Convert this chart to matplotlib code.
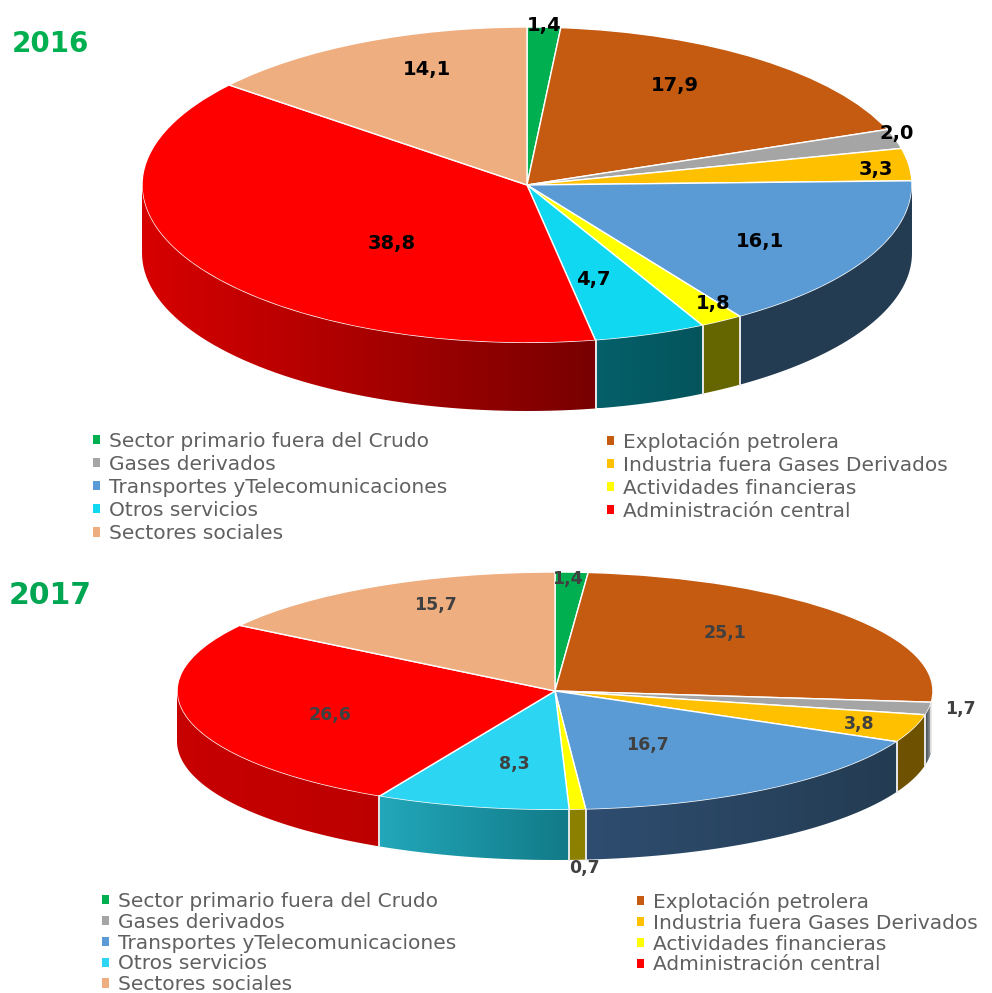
import numpy as np
import matplotlib
matplotlib.use('Agg')
import matplotlib.pyplot as plt
from matplotlib.colors import to_rgb
from matplotlib.patches import Polygon

W, H = 992, 993

categories = ['Sector primario fuera del Crudo', 'Explotación petrolera', 'Gases derivados',
              'Industria fuera Gases Derivados', 'Transportes yTelecomunicaciones', 'Actividades financieras',
              'Otros servicios', 'Administración central', 'Sectores sociales']
values_2016 = [1.4, 17.9, 2.0, 3.3, 16.1, 1.8, 4.7, 38.8, 14.1]
values_2017 = [1.4, 25.1, 1.7, 3.8, 16.7, 0.7, 8.3, 26.6, 15.7]

colors_2016 = ['#00B050', '#C55A11', '#A5A5A5', '#FFC000', '#5B9BD5', '#FFFF00', '#10D8F0', '#FF0000', '#EFAE80']
colors_2017 = ['#00B050', '#C55A11', '#A5A5A5', '#FFC000', '#5B9BD5', '#FFFF00', '#2CD5F2', '#FF0000', '#EFAE80']

# side wall shades, (left, right) for the slices that have a visible wall
walls_2016 = {4: ('#243C52', '#243C52'), 5: ('#666600', '#666600'), 6: ('#04606A', '#04545C'), 7: ('#D80000', '#780000')}
walls_2017 = {2: ('#30404C', '#A0A0A0'), 3: ('#6E5200', '#6E5200'), 4: ('#2E4D70', '#243C52'), 5: ('#8C8000', '#8C8000'),
              6: ('#22A8BA', '#127A88'), 7: ('#C80000', '#BC0000')}

# label centres in pixels
label_xy_2016 = [(544, 25), (675, 85), (897, 133), (876, 170), (760, 241), (713, 304), (593, 279), (392, 243), (427, 70)]
label_xy_2017 = [(567, 579), (725, 633), (960, 709), (859, 724), (647, 745), (584, 868), (514, 764), (330, 715), (435, 605)]


def fx(x):
    return x / W


def fy(y):
    return 1 - y / H


def draw_pie(fig, values, colors, walls, cx, cy, rx, ry, depth):
    # axes covers 1.1 rx sideways and the whole wall downwards
    top = cy - 1.05 * ry
    bot = cy + ry + depth + 5
    ax = fig.add_axes([fx(cx - 1.1 * rx), fy(bot), 2.2 * rx / W, (bot - top) / H])
    wedges, _ = ax.pie(values, colors=colors, startangle=90, counterclock=False, radius=1,
                       wedgeprops=dict(edgecolor='white', linewidth=1.0), normalize=True)

    d = depth / ry
    edges = np.concatenate([[0], np.cumsum(values)]) / np.sum(values) * 360
    for i, (left, right) in walls.items():
        t0 = max(edges[i], 90)
        t1 = min(edges[i + 1], 270)
        if t1 <= t0:
            continue
        ts = np.radians(np.linspace(t0, t1, 60))
        xs = np.sin(ts)
        ys = np.cos(ts)
        outline = np.vstack([np.column_stack([xs, ys]), np.column_stack([xs[::-1], ys[::-1] - d])])
        poly = Polygon(outline, closed=True, facecolor='none', edgecolor='none', transform=ax.transData)
        ax.add_patch(poly)
        # horizontal shade from left to right, clipped to the wall
        cl, cr = np.array(to_rgb(left)), np.array(to_rgb(right))
        shade = np.linspace(0, 1, 256)[None, :, None] * (cr - cl) + cl
        im = ax.imshow(shade, extent=(xs.min(), xs.max(), ys.min() - d, ys.max()), aspect='auto', zorder=1,
                       interpolation='bilinear')
        im.set_clip_path(poly)
        # pale seams between the slices, none on the outer silhouette
        for t, deg in ((ts[0], t0), (ts[-1], t1)):
            if deg not in (90, 270):
                ax.plot([np.sin(t)] * 2, [np.cos(t), np.cos(t) - d], color='#E8E8E8', lw=1.2, zorder=1.5)

    ax.set_aspect('auto')
    ax.set_xlim(-1.1, 1.1)
    ax.set_ylim(-(ry + depth + 5) / ry, 1.05)
    return wedges


def draw_legend(fig, wedges, fontsize, color, spacing, col1, col2, y, pad):
    for idx, x in ((range(0, 9, 2), col1), (range(1, 9, 2), col2)):
        leg = fig.legend([wedges[i] for i in idx], [categories[i] for i in idx], loc='upper left',
                         bbox_to_anchor=(fx(x), fy(y)), frameon=False, fontsize=fontsize, labelcolor=color,
                         borderpad=0, borderaxespad=0, handlelength=0.33, handleheight=0.33, handletextpad=pad,
                         labelspacing=spacing)
        for h in leg.get_patches():
            h.set_edgecolor('none')


def main():
    fig = plt.figure(figsize=(W / 100, H / 100), dpi=100, facecolor='white')

    w16 = draw_pie(fig, values_2016, colors_2016, walls_2016, 527, 185, 385, 158, 68)
    w17 = draw_pie(fig, values_2017, colors_2017, walls_2017, 555, 691, 378, 119, 50)

    for v, (x, y) in zip(values_2016, label_xy_2016):
        fig.text(fx(x), fy(y), f'{v:.1f}'.replace('.', ','), ha='center', va='center', fontsize=14,
                 fontweight='bold', color='black', zorder=5)
    for v, (x, y) in zip(values_2017, label_xy_2017):
        fig.text(fx(x), fy(y), f'{v:.1f}'.replace('.', ','), ha='center', va='center', fontsize=12.5,
                 fontweight='bold', color='#404040', zorder=5)

    fig.text(fx(50), fy(44), '2016', ha='center', va='center', fontsize=20, fontweight='bold', color='#00B050')
    fig.text(fx(50), fy(595), '2017', ha='center', va='center', fontsize=21.5, fontweight='bold', color='#00A651')

    draw_legend(fig, w16, 14.5, '#606060', 0.2, 93, 607, 432, 0.45)
    draw_legend(fig, w17, 14.5, '#606060', 0.09, 102, 637, 892, 0.45)

    fig.savefig('out.png', dpi=100)


main()
